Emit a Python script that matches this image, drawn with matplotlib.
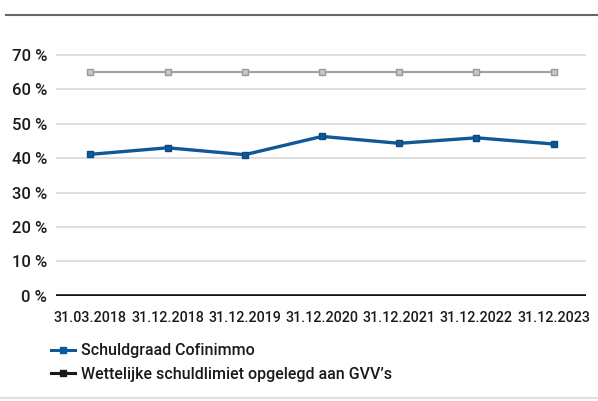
import matplotlib.pyplot as plt
from matplotlib.lines import Line2D

dates = ["31.03.2018", "31.12.2018", "31.12.2019", "31.12.2020",
         "31.12.2021", "31.12.2022", "31.12.2023"]
schuldgraad = [41.1, 43.0, 41.0, 46.3, 44.3, 45.9, 44.1]
limiet = [65, 65, 65, 65, 65, 65, 65]
y_ticks = [0, 10, 20, 30, 40, 50, 60, 70]

plt.rcParams["font.family"] = ["Roboto", "DejaVu Sans"]

fig = plt.figure(figsize=(5.98, 4.01), dpi=100)
ax = fig.add_axes([0.093, 0.262, 0.887, 0.61])

x = list(range(len(dates)))
ax.plot(x, limiet, color="#a3a3a3", linewidth=1.6, marker="s", markersize=4.5,
        markerfacecolor="#c8c8c8", markeredgecolor="#9a9a9a", zorder=3)
ax.plot(x, schuldgraad, color="#0f5996", linewidth=2.4, marker="s", markersize=5,
        markerfacecolor="#0f5996", markeredgecolor="#0a4a80", zorder=4)

ax.set_ylim(0, 71)
ax.set_xlim(-0.45, 6.42)
ax.set_yticks(y_ticks)
ax.set_yticklabels([f"{v} %" for v in y_ticks])
ax.set_xticks(x)
ax.set_xticklabels(dates)
ax.tick_params(length=0, labelsize=12, colors="#1a1a1a", pad=6)
ax.tick_params(axis="x", labelsize=10.3, pad=11)
for lbl in ax.get_xticklabels() + ax.get_yticklabels():
    lbl.set_fontweight("medium")

ax.grid(axis="y", color="#d9d9d9", linewidth=1.2)
ax.axhline(0, color="#111111", linewidth=2.6, zorder=5)
for s in ax.spines.values():
    s.set_visible(False)

handles = [
    Line2D([], [], color="#0f5996", linewidth=2.2, marker="s", markersize=4),
    Line2D([], [], color="#1a1a1a", linewidth=2.2, marker="s", markersize=4),
]
labels = ["Schuldgraad Cofinimmo", "Wettelijke schuldlimiet opgelegd aan GVV\u2019s"]
leg = fig.legend(handles, labels, loc="upper left", bbox_to_anchor=(0.075, 0.16),
                 frameon=False, fontsize=11.5, handlelength=1.5, handletextpad=0.35,
                 labelspacing=0.55, borderaxespad=0)
for t in leg.get_texts():
    t.set_fontweight("medium")
    t.set_color("#1a1a1a")

fig.add_artist(Line2D([0.01, 1.0], [0.963, 0.963], color="#666666", linewidth=1.5,
                      transform=fig.transFigure))
fig.add_artist(Line2D([0.0, 1.0], [0.008, 0.008], color="#e0e0e0", linewidth=1.5,
                      transform=fig.transFigure))

fig.savefig("out.png", dpi=100)
